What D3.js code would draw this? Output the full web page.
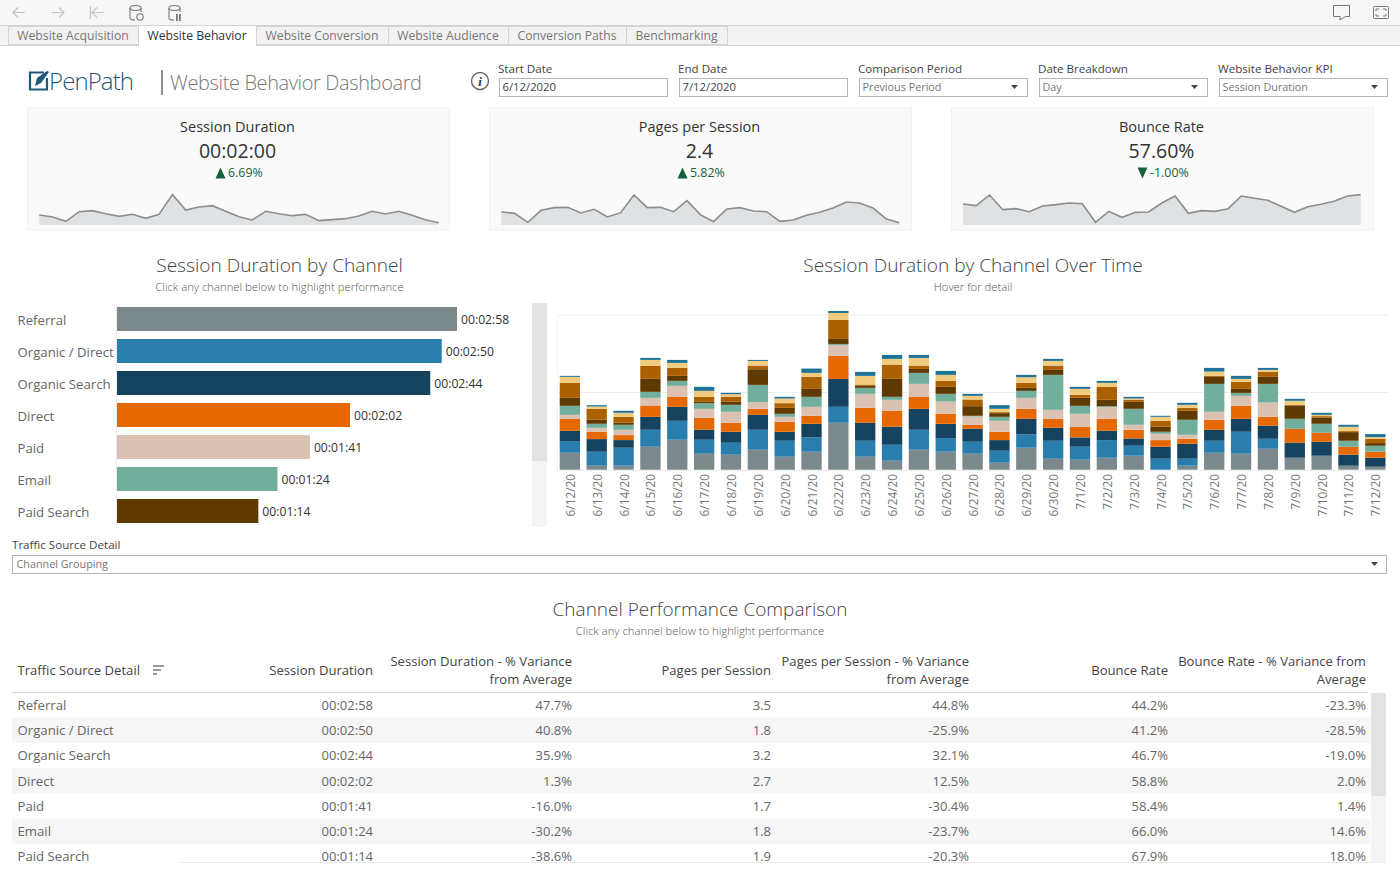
<!DOCTYPE html>
<html>
<head>
<meta charset="utf-8">
<title>Website Behavior Dashboard</title>
<script src="https://cdn.jsdelivr.net/npm/d3@7"></script>
<style>
html,body{margin:0;padding:0;background:#fff;overflow:hidden;}
svg{display:block;}
text{font-family:"Open Sans","Noto Sans",sans-serif;}
</style>
</head>
<body>
<svg id="page" width="1400" height="875"></svg>
<script>
var tabs = ["Website Acquisition","Website Behavior","Website Conversion","Website Audience","Conversion Paths","Benchmarking"];

var channels = ["Referral","Organic / Direct","Organic Search","Direct","Paid","Email","Paid Search"];
var channelSeconds = [178,170,164,122,101,84,74];
var channelLabels = ["00:02:58","00:02:50","00:02:44","00:02:02","00:01:41","00:01:24","00:01:14"];

var dates = ["6/12/20","6/13/20","6/14/20","6/15/20","6/16/20","6/17/20","6/18/20","6/19/20","6/20/20","6/21/20","6/22/20","6/23/20","6/24/20","6/25/20","6/26/20","6/27/20","6/28/20","6/29/20","6/30/20","7/1/20","7/2/20","7/3/20","7/4/20","7/5/20","7/6/20","7/7/20","7/8/20","7/9/20","7/10/20","7/11/20","7/12/20"];
var stackColors = ["#7b888c","#2a7eae","#14425f","#e66800","#dbc1b1","#71ae9b","#5f3a00","#ab6100","#f2cc7e","#1f7399"];

// one row per day, bottom segment first
var stackRows = [
[51,35,31,36,12,27,24,45,18,3],
[12,42,38,22,12,12,12,33,7,4],
[12,54,23,15,16,15,6,18,12,6],
[69,51,39,34,23,18,39,39,18,6],
[90,57,42,30,33,15,15,24,15,9],
[48,42,30,36,27,17,4,15,18,12],
[45,36,33,27,33,21,9,15,8,4],
[60,60,45,18,20,52,47,11,14,3],
[39,48,27,30,15,9,18,14,14,5],
[54,43,41,24,27,30,24,36,12,13],
[141,48,84,69,33,3,15,57,21,6],
[39,48,54,45,42,18,6,4,26,12],
[27,48,54,48,33,9,54,43,17,12],
[60,60,63,36,39,33,12,10,23,9],
[54,41,43,30,37,23,21,18,18,12],
[48,36,39,12,25,2,29,20,11,6],
[21,36,32,25,33,12,11,3,10,11],
[66,40,47,30,33,21,9,15,17,7],
[33,54,39,27,27,105,15,13,14,6],
[30,39,28,32,39,24,24,9,18,6],
[36,53,28,36,35,3,19,39,12,6],
[42,30,22,26,15,48,21,6,4,5],
[0,33,36,20,19,6,15,18,12,3],
[12,21,45,15,12,45,27,9,9,6],
[51,36,33,30,24,84,21,3,13,11],
[48,66,39,39,30,9,12,21,9,9],
[63,30,39,27,43,56,21,15,6,6],
[36,0,45,42,0,30,39,3,12,6],
[42,0,42,27,0,27,19,4,4,6],
[12,0,33,24,0,18,26,3,13,6],
[9,0,27,18,0,18,8,13,5,9]
];
var stackGrid = [232,465];

var sparkDuration = [30,24,11,40,43,34,26,32,20,32,91,45,54,58,41,25,15,41,34,28,32,13,16,19,27,41,33,41,29,16,7];
var sparkPages = [39,35,8,44,52,53,36,47,24,37,90,52,53,40,73,31,10,48,52,42,40,11,15,29,38,51,69,66,51,19,7];
var sparkBounce = [63,58,90,46,49,40,57,61,66,64,8,41,23,38,39,66,87,35,43,41,49,87,80,74,56,38,55,62,71,87,91];

var tableHeaders = [["Session Duration"],["Session Duration - % Variance","from Average"],["Pages per Session"],["Pages per Session - % Variance","from Average"],["Bounce Rate"],["Bounce Rate - % Variance from","Average"]];
var colDuration = ["00:02:58","00:02:50","00:02:44","00:02:02","00:01:41","00:01:24","00:01:14"];
var colDurationVar = ["47.7%","40.8%","35.9%","1.3%","-16.0%","-30.2%","-38.6%"];
var colPages = ["3.5","1.8","3.2","2.7","1.7","1.8","1.9"];
var colPagesVar = ["44.8%","-25.9%","32.1%","12.5%","-30.4%","-23.7%","-20.3%"];
var colBounce = ["44.2%","41.2%","46.7%","58.8%","58.4%","66.0%","67.9%"];
var colBounceVar = ["-23.3%","-28.5%","-19.0%","2.0%","1.4%","14.6%","18.0%"];

var svg = d3.select("#page");

function label(g,x,y,str,size,color,anchor,weight){
    return g.append("text").attr("x",x).attr("y",y).text(str)
        .attr("font-size",size).attr("fill",color)
        .attr("text-anchor",anchor || "start")
        .attr("font-weight",weight || 400);
}

function drawToolbar(){
    var g = svg.append("g");
    g.append("rect").attr("width",1400).attr("height",25).attr("fill","#f6f6f6");
    g.append("rect").attr("y",25).attr("width",1400).attr("height",20).attr("fill","#f2f2f2");
    g.append("line").attr("x1",0).attr("x2",1400).attr("y1",25.5).attr("y2",25.5).attr("stroke","#d4d4d4");
    g.append("line").attr("x1",0).attr("x2",1400).attr("y1",45.5).attr("y2",45.5).attr("stroke","#d4d4d4");

    var icons = g.append("g").attr("fill","none").attr("stroke","#c4c4c4").attr("stroke-width",1.2);
    icons.append("path").attr("d","M25 12.5H13M18 7.5l-5 5 5 5");
    icons.append("path").attr("d","M52 12.5H64M59 7.5l5 5-5 5");
    icons.append("path").attr("d","M90.5 6V19M104 12.5H92M97 7.5l-5 5 5 5");
    var db = g.append("g").attr("fill","none").attr("stroke","#777").attr("stroke-width",1.1);
    [130,169].forEach(function(x){
        db.append("ellipse").attr("cx",x+5.5).attr("cy",8).attr("rx",5.5).attr("ry",2.5);
        db.append("path").attr("d","M"+x+" 8V18q0 2 5 2M"+(x+11)+" 8V12");
    });
    db.append("circle").attr("cx",140).attr("cy",17).attr("r",3.2);
    g.append("rect").attr("x",176).attr("y",14).attr("width",1.8).attr("height",7).attr("fill","#777");
    g.append("rect").attr("x",179).attr("y",14).attr("width",1.8).attr("height",7).attr("fill","#777");

    var right = g.append("g").attr("fill","none").attr("stroke","#777").attr("stroke-width",1);
    right.append("path").attr("d","M1333.5 5.5H1349.5V16.5H1345.5L1340 20V16.5H1333.5Z");
    right.append("rect").attr("x",1373.5).attr("y",6.5).attr("width",15).attr("height",12).attr("rx",1);
    right.append("path").attr("d","M1376 11V9H1379M1386 11V9H1383M1376 14V16H1379M1386 14V16H1383");

    var tabEdges = [8,138,256,388,508,626,727];
    tabs.forEach(function(t,i){
        var active = i == 1;
        g.append("rect").attr("x",tabEdges[i]+0.5).attr("y",active ? 25.5 : 26.5)
            .attr("width",tabEdges[i+1]-tabEdges[i]).attr("height",active ? 20 : 18)
            .attr("fill",active ? "#fff" : "#f2f2f2").attr("stroke","#d4d4d4");
        label(g,(tabEdges[i]+tabEdges[i+1])/2,40,t,12.2,active ? "#333" : "#777","middle");
    });
    g.append("rect").attr("x",139).attr("y",44).attr("width",117).attr("height",3).attr("fill","#fff");
}

function drawHeader(){
    var g = svg.append("g");
    g.append("path").attr("fill","none").attr("stroke","#1f5878").attr("stroke-width",2.2)
        .attr("d","M44 72.5H30V89.5H47V78");
    g.append("path").attr("fill","#1f5878").attr("d","M35 86L37 78L47 71L49 72L41 83Z");
    label(g,49,90,"PenPath",24,"#1f5878").attr("font-weight",300).attr("textLength",85);
    g.append("line").attr("x1",162).attr("x2",162).attr("y1",70).attr("y2",95).attr("stroke","#555").attr("stroke-width",1.3);
    label(g,170,90,"Website Behavior Dashboard",20,"#777").attr("font-weight",300).attr("textLength",252);

    g.append("circle").attr("cx",480).attr("cy",81).attr("r",8.5).attr("fill","none").attr("stroke","#666").attr("stroke-width",1.4);
    label(g,480,86,"i",13,"#333","middle",700).attr("font-style","italic").style("font-family","'Liberation Serif',serif");

    var filters = [
        {x:498,title:"Start Date",value:"6/12/2020",arrow:false},
        {x:678,title:"End Date",value:"7/12/2020",arrow:false},
        {x:858,title:"Comparison Period",value:"Previous Period",arrow:true},
        {x:1038,title:"Date Breakdown",value:"Day",arrow:true},
        {x:1218,title:"Website Behavior KPI",value:"Session Duration",arrow:true}
    ];
    filters.forEach(function(f){
        label(g,f.x,73,f.title,11.6,"#444");
        g.append("rect").attr("x",f.x+1.5).attr("y",78.5).attr("width",168).attr("height",18)
            .attr("fill","#fff").attr("stroke","#b5b5b5");
        label(g,f.x+4.5,91,f.value,f.arrow ? 10.8 : 11.3,f.arrow ? "#777" : "#444");
        if(f.arrow) g.append("path").attr("d","M"+(f.x+153)+" 85h7l-3.5 4z").attr("fill","#444");
    });
}

function drawKpi(box,title,value,change,up,series){
    var g = svg.append("g");
    g.append("rect").attr("x",box.x).attr("y",108).attr("width",box.w).attr("height",122)
        .attr("fill","#f9faf9").attr("stroke","#f0f1f0");
    var cx = box.x + box.w/2;
    label(g,cx-1,132,title,14.5,"#333","middle");
    label(g,cx-1,157.5,value,19.5,"#333","middle");
    var tx = cx + (up ? -23 : -25);
    g.append("path").attr("fill","#17613a")
        .attr("d",up ? "M"+tx+" 178.5h10l-5-11z" : "M"+tx+" 167.5h10l-5 11z");
    label(g,tx+12.5,177,change,12.4,"#17613a");

    var x = d3.scaleLinear().domain([0,series.length-1]).range(box.spark);
    var y = d3.scaleLinear().domain([0,100]).range([225,225-100/3]);
    var area = d3.area().x(function(d,i){return x(i);}).y0(y(0)).y1(function(d){return y(d);});
    var line = d3.line().x(function(d,i){return x(i);}).y(function(d){return y(d);});
    g.append("path").datum(series).attr("d",area).attr("fill","#dfe1e2");
    g.append("path").datum(series).attr("d",line).attr("fill","none").attr("stroke","#8b8e90").attr("stroke-width",1.6);
}

function drawChannelBars(){
    var g = svg.append("g");
    label(g,279.5,272,"Session Duration by Channel",19.1,"#444","middle",300);
    label(g,279.5,291,"Click any channel below to highlight performance",11.3,"#555","middle",300);

    var x = d3.scaleLinear().domain([0,178]).range([117,457]);
    var y = d3.scaleBand().domain(channels).range([303,527]).paddingInner(0.25).paddingOuter(0.125);
    g.append("line").attr("x1",116.5).attr("x2",116.5).attr("y1",303).attr("y2",527).attr("stroke","#ececec");
    g.selectAll(".bar").data(channels).enter().append("rect").attr("class","bar")
        .attr("x",x(0)).attr("y",function(d){return y(d);})
        .attr("width",function(d,i){return x(channelSeconds[i])-x(0);})
        .attr("height",y.bandwidth())
        .attr("fill",function(d,i){return stackColors[i];});
    channels.forEach(function(c,i){
        label(g,17.5,y(c)+y.bandwidth()/2+5.5,c,13.2,"#666");
        label(g,x(channelSeconds[i])+4,y(c)+y.bandwidth()/2+5,channelLabels[i],12.2,"#333");
    });
    g.append("rect").attr("x",532).attr("y",303).attr("width",15).attr("height",224).attr("fill","#f4f4f4");
    g.append("rect").attr("x",532).attr("y",303).attr("width",15).attr("height",158).attr("fill","#e3e3e3");
}

function drawStack(){
    var g = svg.append("g");
    label(g,973,272,"Session Duration by Channel Over Time",19.1,"#444","middle",300);
    label(g,973,291,"Hover for detail",11.3,"#555","middle",300);

    var x = d3.scaleBand().domain(dates).range([556.5,1388.7]).paddingInner(0.243).paddingOuter(0.12);
    var y = d3.scaleLinear().domain([0,465]).range([469.7,315]);

    stackGrid.forEach(function(v){
        g.append("line").attr("x1",557).attr("x2",1388).attr("y1",y(v)).attr("y2",y(v)).attr("stroke","#eeeeee");
    });
    g.append("line").attr("x1",557.5).attr("x2",557.5).attr("y1",315).attr("y2",473).attr("stroke","#f6f6f6");
    g.append("line").attr("x1",557).attr("x2",1388).attr("y1",470.5).attr("y2",470.5).attr("stroke","#eeeeee");

    var keys = d3.range(stackColors.length);
    var stacked = d3.stack().keys(keys)(stackRows);
    var layers = g.selectAll(".layer").data(stacked).enter().append("g").attr("class","layer")
        .attr("fill",function(d,i){return stackColors[i];});
    layers.selectAll("rect").data(function(d){return d;}).enter().append("rect")
        .attr("x",function(d,i){return x(dates[i]);})
        .attr("y",function(d){return y(d[1]);})
        .attr("width",x.bandwidth())
        .attr("height",function(d){return y(d[0])-y(d[1]);});

    dates.forEach(function(d){
        var cx = x(d)+x.bandwidth()/2;
        g.append("text").text(d)
            .attr("transform","translate("+(cx+5)+",474) rotate(-90)")
            .attr("text-anchor","end").attr("font-size",11.8).attr("fill","#777");
    });
}

function drawTable(){
    var g = svg.append("g");
    label(g,12,549,"Traffic Source Detail",11.6,"#444");
    g.append("rect").attr("x",12.5).attr("y",555.5).attr("width",1374).attr("height",18).attr("fill","#fff").attr("stroke","#b5b5b5");
    label(g,16.5,568,"Channel Grouping",10.8,"#777");
    g.append("path").attr("d","M1371 562h7l-3.5 4z").attr("fill","#444");

    label(g,700,616,"Channel Performance Comparison",19,"#444","middle",300);
    label(g,700,635,"Click any channel below to highlight performance",11.3,"#555","middle",300);

    var rowY = d3.scaleBand().domain(channels).range([692.5,869.25]).paddingInner(0).paddingOuter(0);
    var columns = [colDuration,colDurationVar,colPages,colPagesVar,colBounce,colBounceVar];
    var colX = [373,572,771,969,1168,1366];

    channels.forEach(function(c,i){
        if(i % 2 == 1){
            g.append("rect").attr("x",12).attr("y",rowY(c)).attr("width",1358).attr("height",rowY.bandwidth()).attr("fill","#f6f6f6");
        }
    });
    g.append("rect").attr("y",862).attr("width",1400).attr("height",13).attr("fill","#fff");
    g.append("line").attr("x1",178).attr("x2",1386).attr("y1",862.5).attr("y2",862.5).attr("stroke","#ededed");

    label(g,17.5,675,"Traffic Source Detail",13.1,"#444");
    g.append("path").attr("stroke","#777").attr("stroke-width",1.5).attr("fill","none").attr("d","M153 666H164M153 670H161M153 674H157");
    tableHeaders.forEach(function(h,i){
        if(h.length == 1){
            label(g,colX[i],675,h[0],13.1,"#444","end");
        }else{
            label(g,colX[i],666,h[0],13.1,"#444","end");
            label(g,colX[i],684,h[1],13.1,"#444","end");
        }
    });
    g.append("line").attr("x1",12).attr("x2",1368).attr("y1",692.5).attr("y2",692.5).attr("stroke","#d6d6d6");

    channels.forEach(function(c,i){
        var ty = rowY(c)+rowY.bandwidth()/2+4.8;
        label(g,17.5,ty,c,13.2,"#666");
        columns.forEach(function(col,j){
            label(g,colX[j],ty,col[i],13,"#666","end");
        });
    });

    g.append("rect").attr("x",1371).attr("y",693).attr("width",15).attr("height",169).attr("fill","#f4f4f4");
    g.append("rect").attr("x",1371).attr("y",693).attr("width",15).attr("height",103).attr("fill","#e3e3e3");
}

drawToolbar();
drawHeader();
drawKpi({x:27.5,w:422,spark:[39.3,438.7]},"Session Duration","00:02:00","6.69%",true,sparkDuration);
drawKpi({x:489.5,w:422,spark:[501.3,899.3]},"Pages per Session","2.4","5.82%",true,sparkPages);
drawKpi({x:951.5,w:422,spark:[963,1360.7]},"Bounce Rate","57.60%","-1.00%",false,sparkBounce);
drawChannelBars();
drawStack();
drawTable();
</script>
</body>
</html>
